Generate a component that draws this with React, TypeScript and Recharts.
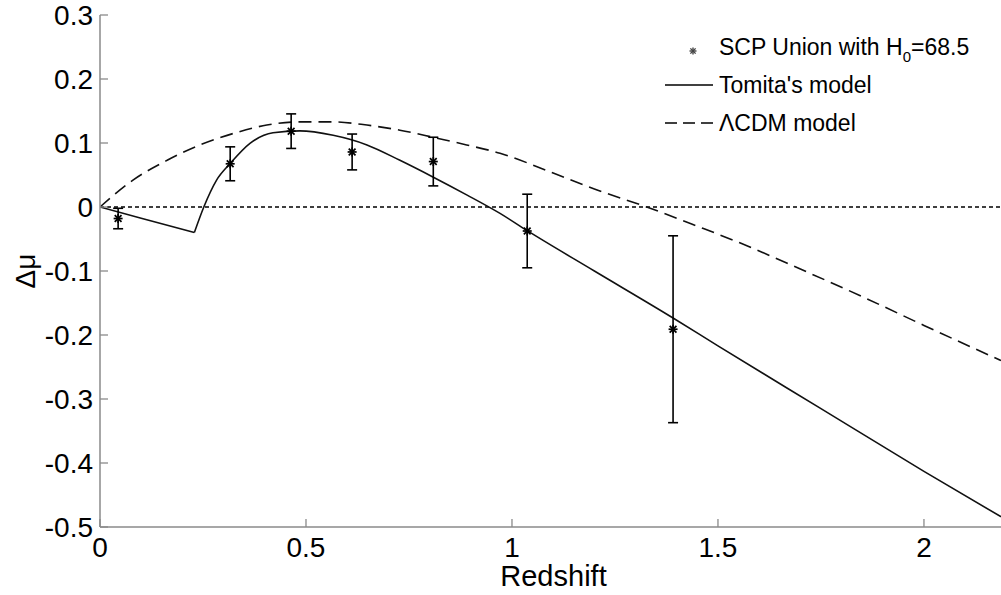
import React from 'react';
import { ComposedChart, Line, Scatter, ErrorBar, XAxis, YAxis, ReferenceLine, Legend } from 'recharts';

// Tomita's model (solid line): straight inside the void, then smooth outside
const tomitaInZ = [0, 0.1, 0.229];
const tomitaInDmu = [0, -0.0175, -0.040];
const tomitaOutZ = [0.229, 0.252, 0.283, 0.316, 0.364, 0.42, 0.485, 0.566, 0.648, 0.728, 0.808, 0.89, 0.971, 1.037, 1.2, 1.39, 1.5, 1.75, 2.0, 2.187];
const tomitaOutDmu = [-0.040, 0.0, 0.042, 0.068, 0.0995, 0.116, 0.119, 0.112, 0.097, 0.073, 0.047, 0.019, -0.010, -0.037, -0.100, -0.173, -0.217, -0.315, -0.413, -0.484];

// LambdaCDM model (dashed line)
const lcdmZ = [0, 0.08, 0.163, 0.243, 0.324, 0.405, 0.485, 0.566, 0.648, 0.728, 0.808, 0.89, 0.971, 1.1, 1.2, 1.327, 1.45, 1.553, 1.7, 1.85, 2.0, 2.187];
const lcdmDmu = [0, 0.042, 0.073, 0.097, 0.115, 0.128, 0.133, 0.133, 0.128, 0.120, 0.109, 0.097, 0.084, 0.053, 0.028, 0.0, -0.030, -0.056, -0.097, -0.140, -0.185, -0.240];

// SCP Union binned data
const sneZ = [0.044, 0.316, 0.464, 0.612, 0.809, 1.037, 1.391];
const sneDmu = [-0.018, 0.0675, 0.1185, 0.086, 0.071, -0.0375, -0.191];
const sneErr = [0.016, 0.0265, 0.027, 0.028, 0.038, 0.0575, 0.146];

const xTicks = [0, 0.5, 1, 1.5, 2];
const yTicks = [-0.5, -0.4, -0.3, -0.2, -0.1, 0, 0.1, 0.2, 0.3];

const tomitaIn = tomitaInZ.map((z, i) => ({ z, dmu: tomitaInDmu[i] }));
const tomitaOut = tomitaOutZ.map((z, i) => ({ z, dmu: tomitaOutDmu[i] }));
const lcdm = lcdmZ.map((z, i) => ({ z, dmu: lcdmDmu[i] }));
const sne = sneZ.map((z, i) => ({ z, dmu: sneDmu[i], err: sneErr[i] }));

const FONT = '"Liberation Sans", Arial, Helvetica, sans-serif';
const AXIS = '#8a8a8a';

const Asterisk = ({ cx, cy, r = 4, color = '#000', sw = 1.7 }: any) => (
  <g stroke={color} strokeWidth={sw}>
    <line x1={cx - r} y1={cy} x2={cx + r} y2={cy} />
    <line x1={cx} y1={cy - r} x2={cx} y2={cy + r} />
    <line x1={cx - r * 0.75} y1={cy - r * 0.75} x2={cx + r * 0.75} y2={cy + r * 0.75} />
    <line x1={cx - r * 0.75} y1={cy + r * 0.75} x2={cx + r * 0.75} y2={cy - r * 0.75} />
  </g>
);

const LeftTick = ({ x, y, payload }: any) => (
  <g>
    <line x1={x} x2={x + 8} y1={y} y2={y} stroke={AXIS} strokeWidth={1.3} />
    <text x={x - 7} y={y + 10} textAnchor="end" fontSize={28} fontFamily={FONT} fill="#000">
      {String(payload.value)}
    </text>
  </g>
);

const RightTick = ({ x, y }: any) => (
  <line x1={x - 3} x2={x} y1={y} y2={y} stroke={AXIS} strokeWidth={1.3} />
);

const BottomTick = ({ x, y, payload }: any) => (
  <g>
    <line x1={x} x2={x} y1={y - 8} y2={y} stroke={AXIS} strokeWidth={1.3} />
    <text x={x} y={y + 30} textAnchor="middle" fontSize={28} fontFamily={FONT} fill="#000">
      {String(payload.value)}
    </text>
  </g>
);

const TopTick = ({ x, y }: any) => (
  <line x1={x} x2={x} y1={y} y2={y + 8} stroke={AXIS} strokeWidth={1.3} />
);

const XLabel = ({ viewBox }: any) => (
  <text x={viewBox.x + viewBox.width / 2 + 3} y={586} textAnchor="middle" fontSize={29} fontFamily={FONT} fill="#000">
    Redshift
  </text>
);

const YLabel = ({ viewBox }: any) => {
  const cy = viewBox.y + viewBox.height / 2;
  return (
    <text x={25} y={cy} transform={`rotate(-90 25 ${cy})`} textAnchor="middle" dominantBaseline="central" fontSize={28} fontFamily={FONT} fill="#000">
      Δμ
    </text>
  );
};

const renderLegend = () => (
  <svg width={330} height={120} style={{ display: 'block' }}>
    <Asterisk cx={38} cy={30} r={3.5} color="#444" sw={1.4} />
    <text x={64} y={34} fontSize={23} fontFamily={FONT} fill="#000">
      SCP Union with H
      <tspan fontSize={15} dy={7}>0</tspan>
      <tspan dy={-7}>=68.5</tspan>
    </text>
    <line x1={10} x2={58} y1={64} y2={64} stroke="#000" strokeWidth={1.5} />
    <text x={64} y={72} fontSize={23} fontFamily={FONT} fill="#000">Tomita's model</text>
    <line x1={10} x2={58} y1={102} y2={102} stroke="#000" strokeWidth={1.5} strokeDasharray="12 6" />
    <text x={64} y={110} fontSize={23} fontFamily={FONT} fill="#000">ΛCDM model</text>
  </svg>
);

export default function App() {
  return (
    <div style={{ position: 'absolute', left: 0, top: 0, background: '#fff' }}>
      <ComposedChart width={1001} height={595} margin={{ top: 15, right: 0, left: 0, bottom: 0 }}>
        <XAxis
          dataKey="z"
          type="number"
          domain={[0, 2.187]}
          ticks={xTicks}
          allowDataOverflow
          height={68}
          axisLine={{ stroke: AXIS, strokeWidth: 1.5 }}
          tickLine={false}
          tickSize={0}
          tickMargin={0}
          tick={<BottomTick />}
          label={<XLabel />}
        />
        <XAxis
          xAxisId="top"
          orientation="top"
          type="number"
          dataKey="z"
          domain={[0, 2.187]}
          ticks={xTicks}
          allowDataOverflow
          height={0}
          axisLine={{ stroke: AXIS, strokeWidth: 1.5 }}
          tickLine={false}
          tickSize={0}
          tickMargin={0}
          tick={<TopTick />}
        />
        <YAxis
          type="number"
          domain={[-0.5, 0.3]}
          ticks={yTicks}
          allowDataOverflow
          width={100}
          axisLine={{ stroke: AXIS, strokeWidth: 1.5 }}
          tickLine={false}
          tickSize={0}
          tickMargin={0}
          tick={<LeftTick />}
          label={<YLabel />}
        />
        <YAxis
          yAxisId="r"
          orientation="right"
          type="number"
          domain={[-0.5, 0.3]}
          ticks={yTicks}
          allowDataOverflow
          width={0}
          axisLine={false}
          tickLine={false}
          tickSize={0}
          tickMargin={0}
          tick={<RightTick />}
        />
        <ReferenceLine y={0} stroke="#000" strokeWidth={1.5} strokeDasharray="4 3" />
        <Line
          data={lcdm}
          dataKey="dmu"
          type="monotone"
          stroke="#111"
          strokeWidth={1.6}
          strokeDasharray="13 7"
          dot={false}
          activeDot={false}
          isAnimationActive={false}
          name="ΛCDM model"
        />
        <Line
          data={tomitaIn}
          dataKey="dmu"
          type="linear"
          stroke="#111"
          strokeWidth={1.6}
          dot={false}
          activeDot={false}
          isAnimationActive={false}
          name="Tomita's model"
        />
        <Line
          data={tomitaOut}
          dataKey="dmu"
          type="monotone"
          stroke="#111"
          strokeWidth={1.6}
          dot={false}
          activeDot={false}
          isAnimationActive={false}
          name="Tomita's model (outside void)"
        />
        <Scatter
          data={sne}
          dataKey="dmu"
          isAnimationActive={false}
          shape={(p: any) => <Asterisk cx={p.cx} cy={p.cy} r={4.5} />}
          name="SCP Union"
        >
          <ErrorBar dataKey="err" direction="y" width={5} stroke="#000" strokeWidth={1.6} isAnimationActive={false} />
        </Scatter>
        <Legend
          content={renderLegend}
          layout="horizontal"
          verticalAlign="middle"
          align="center"
          wrapperStyle={{ left: 655, top: 21, width: 330, height: 120 }}
        />
      </ComposedChart>
    </div>
  );
}
